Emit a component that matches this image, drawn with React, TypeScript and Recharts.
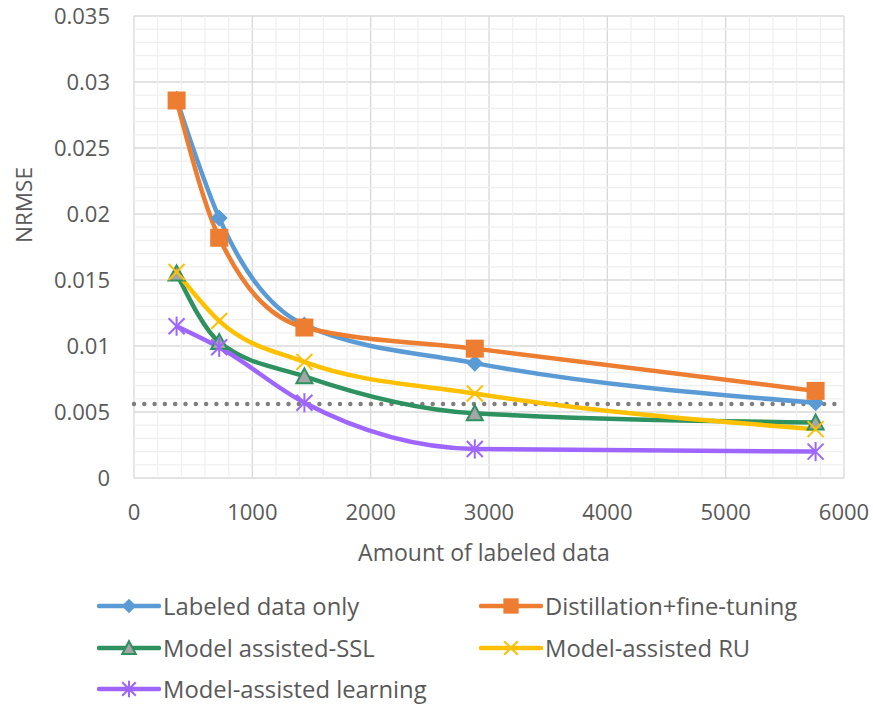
import React from 'react';
import { LineChart, Line, XAxis, YAxis, CartesianGrid, ReferenceLine } from 'recharts';

const xValues = [360, 720, 1440, 2880, 5760];
const labeledOnly = [0.0287, 0.0197, 0.0116, 0.0087, 0.0057];
const distillation = [0.0286, 0.0182, 0.0114, 0.0098, 0.0066];
const modelSSL = [0.0155, 0.0103, 0.0077, 0.0049, 0.0042];
const modelRU = [0.0156, 0.0119, 0.0088, 0.0064, 0.0037];
const modelLearning = [0.0115, 0.0099, 0.0057, 0.0022, 0.002];
const baselineValue = 0.0056;

const xTicks = [0, 1000, 2000, 3000, 4000, 5000, 6000];
const yTicks = [0, 0.005, 0.01, 0.015, 0.02, 0.025, 0.03, 0.035];
const xMinor = [200, 400, 600, 800, 1200, 1400, 1600, 1800, 2200, 2400, 2600, 2800, 3200, 3400, 3600, 3800, 4200, 4400, 4600, 4800, 5200, 5400, 5600, 5800];
const yMinor = [0.001, 0.002, 0.003, 0.004, 0.006, 0.007, 0.008, 0.009, 0.011, 0.012, 0.013, 0.014, 0.016, 0.017, 0.018, 0.019, 0.021, 0.022, 0.023, 0.024, 0.026, 0.027, 0.028, 0.029, 0.031, 0.032, 0.033, 0.034];

const seriesNames = ['Labeled data only', 'Distillation+fine-tuning', 'Model assisted-SSL', 'Model-assisted RU', 'Model-assisted learning'];
const keys = ['labeled', 'distill', 'ssl', 'ru', 'mal'];
const colors = ['#5B9BD5', '#ED7D31', '#2E9160', '#FFC000', '#9E66FF'];
const markers = ['diamond', 'square', 'triangle', 'x', 'star'];

const data = xValues.map((x, i) => ({
  x,
  labeled: labeledOnly[i],
  distill: distillation[i],
  ssl: modelSSL[i],
  ru: modelRU[i],
  mal: modelLearning[i],
}));

const FONT = '"Open Sans", "Noto Sans", sans-serif';
const TEXT = '#595959';

function Marker({ kind, cx, cy, color, s = 1 }: { kind: string; cx: number; cy: number; color: string; s?: number }) {
  if (cx == null || cy == null) return null;
  switch (kind) {
    case 'diamond': {
      const r = 8.5 * s;
      return <polygon points={`${cx},${cy - r} ${cx + r},${cy} ${cx},${cy + r} ${cx - r},${cy}`} fill={color} />;
    }
    case 'square': {
      const h = 9 * s;
      return <rect x={cx - h} y={cy - h} width={2 * h} height={2 * h} fill={color} />;
    }
    case 'triangle': {
      const w = 8 * s;
      return (
        <polygon
          points={`${cx},${cy - 8 * s} ${cx + w},${cy + 7 * s} ${cx - w},${cy + 7 * s}`}
          fill="#A5A5A5"
          stroke={color}
          strokeWidth={2}
          strokeLinejoin="miter"
        />
      );
    }
    case 'x': {
      const h = 8 * s;
      return (
        <g stroke={color} strokeWidth={2}>
          <line x1={cx - h} y1={cy - h} x2={cx + h} y2={cy + h} />
          <line x1={cx - h} y1={cy + h} x2={cx + h} y2={cy - h} />
        </g>
      );
    }
    case 'star': {
      const h = 8 * s;
      return (
        <g stroke={color} strokeWidth={2}>
          <line x1={cx - h} y1={cy - h} x2={cx + h} y2={cy + h} />
          <line x1={cx - h} y1={cy + h} x2={cx + h} y2={cy - h} />
          <line x1={cx} y1={cy - h * 1.2} x2={cx} y2={cy + h * 1.2} />
        </g>
      );
    }
    default:
      return null;
  }
}

const makeDot = (kind: string, color: string) => (props: any) => (
  <g key={`${kind}-${props.index}`}>
    <Marker kind={kind} cx={props.cx} cy={props.cy} color={color} />
  </g>
);

const legendRows = [
  [0, 1],
  [2, 3],
  [4],
];

export default function App() {
  return (
    <div style={{ position: 'absolute', left: 0, top: 0, width: 873, height: 706, background: '#fff' }}>
      <LineChart width={873} height={706} data={data} margin={{ top: 16, right: 29, left: 0, bottom: 167 }}>
        {xMinor.map((v) => (
          <ReferenceLine key={`vx${v}`} x={v} stroke="#EFEFEF" strokeWidth={1.2} />
        ))}
        {yMinor.map((v) => (
          <ReferenceLine key={`hy${v}`} y={v} stroke="#EFEFEF" strokeWidth={1.2} />
        ))}
        <CartesianGrid stroke="#D9D9D9" strokeWidth={1.3} />
        <XAxis
          type="number"
          dataKey="x"
          domain={[0, 6000]}
          ticks={xTicks}
          axisLine={false}
          tickLine={false}
          tickSize={0}
          tickMargin={26}
          height={61}
          tick={{ fontFamily: FONT, fontSize: 22, fill: TEXT }}
          label={({ viewBox }: any) => (
            <text
              x={viewBox.x + viewBox.width / 2 - 5}
              y={viewBox.y + 83}
              textAnchor="middle"
              fontFamily={FONT}
              fontSize={23}
              fill={TEXT}
            >
              Amount of labeled data
            </text>
          )}
        />
        <YAxis
          type="number"
          domain={[0, 0.035]}
          ticks={yTicks}
          axisLine={false}
          tickLine={false}
          tickSize={0}
          tickMargin={24}
          width={134}
          tickFormatter={(v: number) => String(+v.toFixed(3))}
          tick={{ fontFamily: FONT, fontSize: 22, fill: TEXT }}
          label={() => (
            <text
              x={23}
              y={205}
              transform={`rotate(-90, 23, 205)`}
              textAnchor="middle"
              dominantBaseline="central"
              fontFamily={FONT}
              fontSize={22.5}
              fill={TEXT}
            >
              NRMSE
            </text>
          )}
        />
        <ReferenceLine
          y={baselineValue}
          stroke="#7F7F7F"
          strokeWidth={4.5}
          strokeDasharray="0 10.3"
          strokeLinecap="round"
        />
        {keys.map((k, i) => (
          <Line
            key={k}
            type="monotone"
            dataKey={k}
            name={seriesNames[i]}
            stroke={colors[i]}
            strokeWidth={4.5}
            dot={makeDot(markers[i], colors[i])}
            activeDot={false}
            isAnimationActive={false}
          />
        ))}
      </LineChart>
      {legendRows.map((row, ri) =>
        row.map((si, ci) => (
          <div
            key={`lg${si}`}
            style={{
              position: 'absolute',
              left: ci === 0 ? 97 : 479,
              top: 587 + ri * 41.5,
              height: 38,
              display: 'flex',
              alignItems: 'center',
              fontFamily: FONT,
              fontSize: 23.8,
              color: TEXT,
              whiteSpace: 'nowrap',
            }}
          >
            <svg width={64} height={24} style={{ marginRight: 2 }}>
              <line x1={2} y1={12} x2={62} y2={12} stroke={colors[si]} strokeWidth={4.5} strokeLinecap="round" />
              <Marker kind={markers[si]} cx={32} cy={12} color={colors[si]} s={0.85} />
            </svg>
            <span>{seriesNames[si]}</span>
          </div>
        ))
      )}
    </div>
  );
}
